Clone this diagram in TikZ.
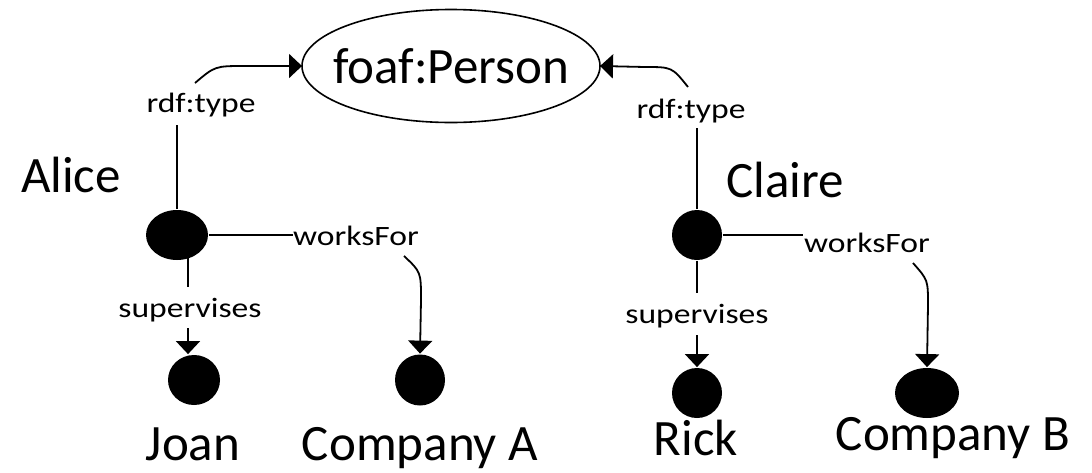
\documentclass[tikz,border=0pt]{standalone}
\usepackage{fontspec}
\setmainfont{Carlito}
\newfontfamily\lblfont[FakeStretch=1.2]{Carlito}
\usetikzlibrary{arrows.meta,shapes.geometric}

\begin{document}
\begin{tikzpicture}[x=1pt,y=-1pt,
  line width=1.8pt,
  big/.style={font=\fontsize{51}{51}\selectfont, inner sep=0pt, anchor=base},
  lbl/.style={font=\lblfont\fontsize{28}{28}\selectfont, inner sep=0pt, anchor=base},
  blob/.style={ellipse, fill=black, inner sep=0pt},
  arr/.style={-{Triangle[length=13pt,width=24pt]}}]
\useasboundingbox (0,0) rectangle (1092,472);

% class node (zero-width text box so the ellipse keeps its own size)
\node[ellipse, draw, line width=1.6pt, minimum width=298pt, minimum height=113pt,
      inner sep=0pt, outer sep=0pt, font=\fontsize{51}{51}\selectfont] (person) at (451,66)
      {\makebox[0pt]{foaf:Person}};

% resources
\node[blob, minimum width=62pt, minimum height=50pt] (alice) at (177,235) {};
\node[blob, minimum width=52pt, minimum height=50pt] (joan) at (194,380) {};
\node[blob, minimum width=50pt, minimum height=51pt] (compA) at (420,380) {};
\node[blob, minimum width=50pt, minimum height=50pt] (claire) at (697,235) {};
\node[blob, minimum width=50pt, minimum height=50pt] (rick) at (697,393) {};
\node[blob, minimum width=64pt, minimum height=50pt] (compB) at (927,393) {};

% resource names
\node[big] (alicename) at (71,192) {Alice};
\node[big] (clairename) at (785,197) {Claire};
\node[big] (joanname) at (193,460) {Joan};
\node[big] (compAname) at (420,460) {Company A};
\node[big] (rickname) at (696,455) {Rick};
\node[big] (compBname) at (953,450) {Company B};

% property labels
\node[lbl] (ltype) at (201,112) {rdf:type};
\node[lbl] (lworks) at (356,245) {worksFor};
\node[lbl] (lsup) at (190,317) {supervises};
\node[lbl] (rtype) at (691,118) {rdf:type};
\node[lbl] (rworks) at (867,252) {worksFor};
\node[lbl] (rsup) at (697,323) {supervises};

% break points around the labels
\coordinate (a1) at (177,125);
\coordinate (a2) at (195,83);
\coordinate (a3) at (293,235);
\coordinate (a4) at (404,256);
\coordinate (a5) at (188,258);
\coordinate (a6) at (188,287);
\coordinate (a7) at (188,328);
\coordinate (b1) at (697,128);
\coordinate (b2) at (688,87);
\coordinate (b3) at (803,235);
\coordinate (b4) at (913,263);
\coordinate (b5) at (697,293);
\coordinate (b6) at (697,335);

% Alice
\draw (alice.north) -- (a1);
\draw[arr] (a2) .. controls (215,66) .. (245,66) -- (person.west);
\draw (alice.east) -- (a3);
\draw[arr] (a4) .. controls (421,272) .. (421,300) -- (compA.north);
\draw (a5) -- (a6);
\draw[arr] (a7) -- (a7 |- joan.north);

% Claire
\draw (claire.north) -- (b1);
\draw[arr] (b2) .. controls (672,67) .. (645,67) -- (person.east);
\draw (claire.east) -- (b3);
\draw[arr] (b4) .. controls (928,280) .. (928,305) -- (compB.north);
\draw (claire.south) -- (b5);
\draw[arr] (b6) -- (rick.north);
\end{tikzpicture}
\end{document}
